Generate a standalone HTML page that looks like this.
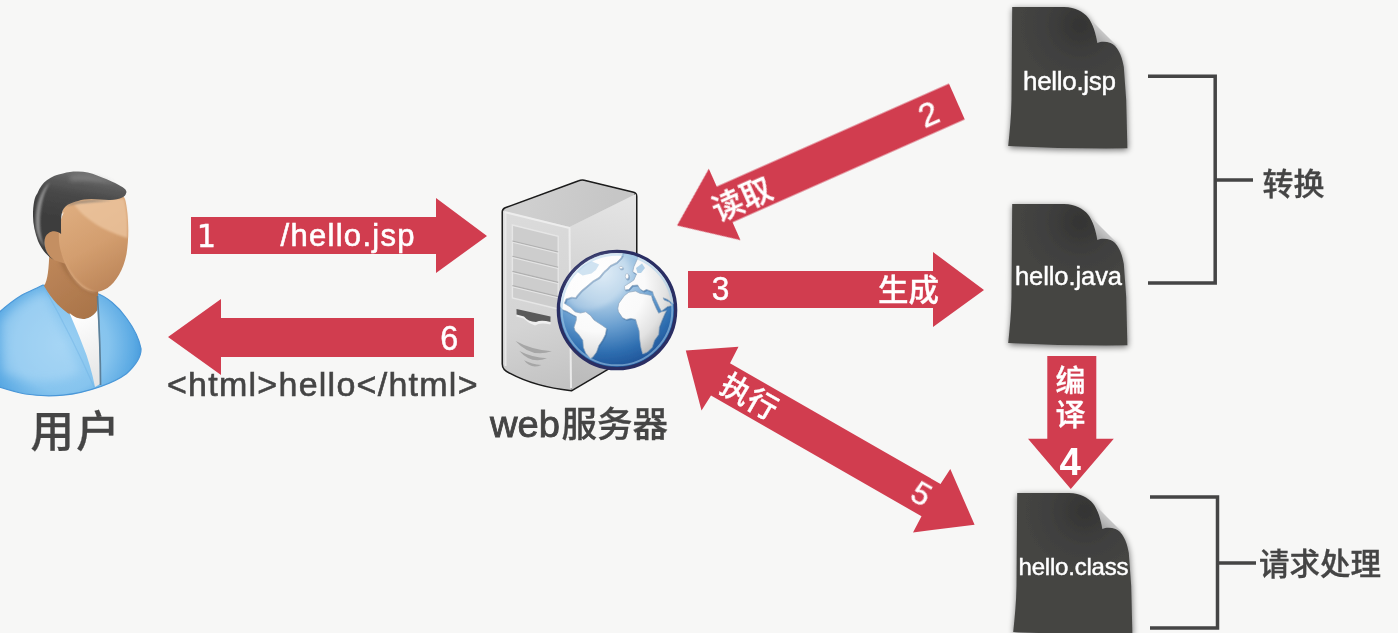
<!DOCTYPE html>
<html lang="zh-CN">
<head>
<meta charset="utf-8">
<title>JSP 执行流程</title>
<style>
  html, body { margin: 0; padding: 0; background: #f7f7f6; overflow: hidden; }
  body { width: 1398px; height: 633px; position: relative; }
  svg { display: block; position: absolute; left: 0; top: 0; }
  text { font-family: "Liberation Sans", "Noto Sans CJK SC", sans-serif; }
  .w { fill: #ffffff; }
  .d { fill: #444444; }
  .cj { font-weight: 500; }
  .w.cj { stroke: #ffffff; stroke-width: 0.35px; }
  .d.cj { stroke: #444444; stroke-width: 0.3px; }
  .lt { stroke: #ffffff; stroke-width: 0.45px; }
  .lt2 { stroke: #ffffff; stroke-width: 0.6px; }
  .ld { stroke: #444444; stroke-width: 0.6px; }
</style>
</head>
<body>
<svg width="1398" height="633" viewBox="0 0 1398 633">
  <defs>
    <filter id="soft" x="-5%" y="-5%" width="110%" height="110%">
      <feGaussianBlur stdDeviation="0.6"/>
    </filter>
    <filter id="fshadow" x="-15%" y="-15%" width="130%" height="130%">
      <feGaussianBlur stdDeviation="3"/>
    </filter>
    <linearGradient id="foldg" x1="0" y1="1" x2="0.6" y2="0.3">
      <stop offset="0" stop-color="#8a8a8a"/>
      <stop offset="0.5" stop-color="#b4b4b4"/>
      <stop offset="1" stop-color="#dadada"/>
    </linearGradient>
    <radialGradient id="fileg" gradientUnits="userSpaceOnUse" cx="70" cy="18" r="60">
      <stop offset="0" stop-color="#343433"/>
      <stop offset="0.6" stop-color="#40403f"/>
      <stop offset="1" stop-color="#444442"/>
    </radialGradient>

    <filter id="b1" x="-10%" y="-10%" width="120%" height="120%"><feGaussianBlur stdDeviation="1"/></filter>
    <filter id="b2" x="-20%" y="-20%" width="140%" height="140%"><feGaussianBlur stdDeviation="2"/></filter>
    <filter id="b4" x="-30%" y="-30%" width="160%" height="160%"><feGaussianBlur stdDeviation="4"/></filter>
    <!-- user gradients -->
    <radialGradient id="bodyg" gradientUnits="userSpaceOnUse" cx="62" cy="345" r="85">
      <stop offset="0" stop-color="#9bd0f3"/>
      <stop offset="0.55" stop-color="#86c4ee"/>
      <stop offset="0.85" stop-color="#5aa9e3"/>
      <stop offset="1" stop-color="#3f93d8"/>
    </radialGradient>
    <linearGradient id="faceg" gradientUnits="userSpaceOnUse" x1="70" y1="200" x2="120" y2="290">
      <stop offset="0" stop-color="#dfae80"/>
      <stop offset="0.5" stop-color="#d39e6f"/>
      <stop offset="1" stop-color="#b98256"/>
    </linearGradient>
    <linearGradient id="neckg" gradientUnits="userSpaceOnUse" x1="50" y1="260" x2="95" y2="320">
      <stop offset="0" stop-color="#bd8659"/>
      <stop offset="1" stop-color="#a87348"/>
    </linearGradient>
    <linearGradient id="hairg" gradientUnits="userSpaceOnUse" x1="85" y1="170" x2="75" y2="225">
      <stop offset="0" stop-color="#777777"/>
      <stop offset="0.2" stop-color="#5e5e5e"/>
      <stop offset="0.5" stop-color="#474747"/>
      <stop offset="1" stop-color="#3c3c3c"/>
    </linearGradient>
    <linearGradient id="shirtg" gradientUnits="userSpaceOnUse" x1="72" y1="315" x2="100" y2="385">
      <stop offset="0" stop-color="#ffffff"/>
      <stop offset="1" stop-color="#e4e4e4"/>
    </linearGradient>
    <!-- server gradients -->
    <linearGradient id="sfront" gradientUnits="userSpaceOnUse" x1="510" y1="215" x2="560" y2="390">
      <stop offset="0" stop-color="#dbdbdb"/>
      <stop offset="0.6" stop-color="#d4d4d4"/>
      <stop offset="1" stop-color="#c2c2c2"/>
    </linearGradient>
    <linearGradient id="sside" gradientUnits="userSpaceOnUse" x1="585" y1="380" x2="625" y2="200">
      <stop offset="0" stop-color="#bcbcbc"/>
      <stop offset="0.5" stop-color="#d2d2d2"/>
      <stop offset="1" stop-color="#e4e4e4"/>
    </linearGradient>
    <linearGradient id="stop" gradientUnits="userSpaceOnUse" x1="530" y1="195" x2="610" y2="215">
      <stop offset="0" stop-color="#cfcfcf"/>
      <stop offset="1" stop-color="#c6c6c6"/>
    </linearGradient>
    <radialGradient id="globeg" gradientUnits="userSpaceOnUse" cx="603" cy="272" r="100">
      <stop offset="0" stop-color="#d6e7f4"/>
      <stop offset="0.3" stop-color="#a9cae5"/>
      <stop offset="0.55" stop-color="#6a9fd0"/>
      <stop offset="0.8" stop-color="#2f6fb1"/>
      <stop offset="1" stop-color="#1c4f94"/>
    </radialGradient>
    <radialGradient id="landg" gradientUnits="userSpaceOnUse" cx="598" cy="285" r="85">
      <stop offset="0" stop-color="#ffffff"/>
      <stop offset="0.55" stop-color="#fafafa"/>
      <stop offset="0.8" stop-color="#e2e2e2"/>
      <stop offset="1" stop-color="#b9b9b9"/>
    </radialGradient>
    <clipPath id="globeclip"><circle cx="617" cy="310" r="56.8"/></clipPath>
    <g id="file">
      <path d="M2.2 0 L54 0 C66 0.5 73 4.5 78 10.5 C83 17 86 27 87.3 36 C91 34.3 96 34.3 100.6 36 C107 38.5 112 48 113.8 60 L116.2 93 L117.4 141.3 Q60 142 -1.8 138.9 C-0.3 125 1.2 110 1.5 93 Z" fill="#000" opacity="0.55" filter="url(#fshadow)" transform="translate(0.5,1.8)"/>
      <path d="M81 13 L107 39 L87 37.5 Z" fill="url(#foldg)" filter="url(#soft)"/>
      <path d="M2.2 0 L54 0 C66 0.5 73 4.5 78 10.5 C83 17 86 27 87.3 36 C91 34.3 96 34.3 100.6 36 C107 38.5 112 48 113.8 60 L116.2 93 L117.4 141.3 Q60 142 -1.8 138.9 C-0.3 125 1.2 110 1.5 93 Z" fill="url(#fileg)" filter="url(#soft)"/>
    </g>
  </defs>

  <rect width="1398" height="633" fill="#f7f7f6"/>


  <!-- user icon -->
  <g id="user" filter="url(#soft)">
    <!-- body -->
    <path d="M-10 321 C2 309 12 301 22 295 C30 291 37 288 43 285 L96 293 C106 296 119 307 126.4 318 C133 327 139 338 141 348.5 C141.5 356 136 365 126.4 373.8 C118 380 108 384 101 386.4 C88 391 76 394 63.2 395.2 C48 396.5 38 396 25.3 394 C15 392 6 389 -10 384 Z" fill="url(#bodyg)" stroke="#4a97d8" stroke-width="1.2"/>
    <path d="M2 322 C14 306 30 297 44 292 C52 312 66 340 80 372 C60 384 30 384 4 372 Z" fill="#b4dcf7" opacity="0.45" filter="url(#b4)"/>
    <!-- neck -->
    <path d="M50 236 C49 262 49 278 44 286 C52 300 62 310 71 315 C78 320.5 90 321.5 97 311 L99 278 L62 236 Z" fill="url(#neckg)"/>
    <path d="M60 262 C68 278 80 290 96 294 L99 283 L64 250 Z" fill="#8e5e3a" opacity="0.55" filter="url(#b2)"/>
    <!-- shirt -->
    <path d="M69.5 313 C78 321 90 322 97.5 310 C99 335 100 360 100 384 L95 387 C92 372 88 358 83 346 C79 335 74 324 69.5 313 Z" fill="url(#shirtg)"/>
    <path d="M97.5 296 C99.5 330 100.5 360 100.5 385" fill="none" stroke="#58788f" stroke-width="1.7" opacity="0.9"/>
    <path d="M44 287 C58 312 78 350 94 387" fill="none" stroke="#6fb3e6" stroke-width="1.2" opacity="0.5"/>
    <!-- ear -->
    <path d="M50 231 C44 232 43 242 45.5 249 C47.5 255 51 259 55 260.5 L66 264 L66 230 Z" fill="#c48f62"/>
    <!-- face -->
    <path d="M62 214 C63 200 84 193 111 192 C118 192 123 194 125 199 C128.5 212 129.5 236 126.5 254 C123.5 270 116 282 107.5 288 C100 293 92 292.5 85 288.5 C74 281.5 65 268 60.5 250 C57.5 238 58.5 222 64 212 Z" fill="url(#faceg)"/>
    <!-- face highlight -->
    <path d="M74 204 C90 199 110 198 124 199 C127 210 128 222 127.5 238 C110 233 86 222 74 204 Z" fill="#efc9a4" opacity="0.7" filter="url(#b1)"/>
    <!-- chin rim light -->
    <path d="M61 252 C68 274 82 289 97 292.5 C86 293 70 282 61 252 Z" fill="#e6b98f" opacity="0.8" filter="url(#b1)"/>
    <!-- hair -->
    <path d="M33 216 C33 204 34.5 197 37.3 193.4 C40 187 43 183 46.8 180.2 C52 176.5 57 174.5 62.9 173.5 C68 172 73 171.5 78.1 171.6 C85 171.7 91 173 97.1 175.4 C104 178 110 180.5 115.1 183 C119 185 122.5 187 124.6 188.7 C126.5 190.5 126.8 192 126 193.4 C125.5 195 124.5 196.3 122.7 197.2 C119 199 115 199.8 110.3 200 C104 200.2 98 199.2 91.4 199.1 C86 199.2 82 199.8 78.1 201 C74 202 70.5 203.2 67.7 204.8 C65 206.5 63 209 62 212.4 C61.2 216 61 219 61 221.9 C61 226 61 230 61.1 234 C57 230.5 52 230.5 48.5 233.2 C44 236 43.5 243 46 250 C48 255 51 258 54 260 C48 257 42 250 38 241 C35 233 33 224 33 216 Z" fill="url(#hairg)"/>
    <path d="M35.5 222 C35.5 204 41 190 50 182 C44 192 40 206 40 222 C40 232 41.5 240 45 248 C39 240 35.5 232 35.5 222 Z" fill="#9a9a9a" opacity="0.85" filter="url(#b1)"/>
    <path d="M70 176 C84 173.5 100 177 114 184 C100 181 84 179.5 70 181 Z" fill="#8e8e8e" opacity="0.6" filter="url(#b2)"/>
    <path d="M66 206 C74 200.5 92 199.5 112 200.6 C96 202 78 202.5 66 206 Z" fill="#6a6a6a" opacity="0.7" filter="url(#b1)"/>
  </g>

  <!-- server icon -->
  <g id="server" filter="url(#soft)">
    <!-- tower -->
    <path d="M503 212 Q503 209.5 505.5 208.5 L579 181.5 Q581.5 180.5 584 181 L633.5 193 Q636 193.8 636 196.5 L636 352 L571.5 390 Q535 386 510 372.5 Q503 369.5 503 364 Z" fill="#d4d4d4" stroke="#1a1a1a" stroke-width="3" stroke-linejoin="round"/>
    <path d="M503 212 Q503 209.5 505.5 208.5 L579 181.5 Q581.5 180.5 584 181 L633.5 193 Q636 193.8 634 195 L569.5 227 Z" fill="url(#stop)"/>
    <path d="M503 211 L569.5 227 L571.5 390 Q535 386 510 372.5 Q503 369.5 503 364 Z" fill="url(#sfront)"/>
    <path d="M569.5 227 L636 194 L636 352 L571.5 390 Z" fill="url(#sside)"/>
    <path d="M504.5 212 L569.5 228 L571 388" stroke="#f0f0f0" stroke-width="2" fill="none" opacity="0.85"/>
    <path d="M505.5 213 L505.5 366" stroke="#ececec" stroke-width="2" fill="none" opacity="0.8"/>
    <!-- drive bays -->
    <path d="M512.4 225 L558.2 236.4 L558.2 309 L512.4 298 Z" fill="#cdcdcd" stroke="#e6e6e6" stroke-width="1.4"/>
    <path d="M512.4 241 L558.2 252 M512.4 256.3 L558.2 267.3 M512.4 271.4 L558.2 282.4 M512.4 285.6 L558.2 296.6" stroke="#b0b0b0" stroke-width="1.1" fill="none"/>
    <path d="M512.4 242.3 L558.2 253.3 M512.4 257.6 L558.2 268.6 M512.4 272.7 L558.2 283.7 M512.4 286.9 L558.2 297.9" stroke="#e6e6e6" stroke-width="1" fill="none"/>
    <!-- floppy -->
    <path d="M516.5 311 L550.5 318.5 L550.5 324.5 Q540 322 535 325.5 Q528 323 523.5 318.5 L516.5 316.5 Z" fill="#f2f2f2" opacity="0.9"/>
    <path d="M516.5 309 L550.5 316.5 L550.5 322 Q541 319.5 536 322 Q528 321.5 524 316.5 L516.5 314.5 Z" fill="#5a5a5a"/>
    <!-- vents -->
    <g fill="#a6a6a6">
      <path d="M515.6 341 Q532 350 551.8 351.2 Q531 358.5 515.6 341 Z"/>
      <path d="M519.4 351 Q532 357.5 547 358.2 Q531 364.5 519.4 351 Z"/>
      <path d="M524 360.3 Q532 364.5 541.4 364.9 Q531 369.5 524 360.3 Z"/>
    </g>
    <!-- globe -->
    <circle cx="617" cy="310" r="58.6" fill="url(#globeg)" stroke="#2b2f63" stroke-width="3.4"/>
    <g clip-path="url(#globeclip)">
      <g fill="#3d6c9f" stroke="#3d6c9f" stroke-width="0.6" opacity="0.55" transform="translate(0.9 1.1)" stroke-linejoin="round">
        <path d="M625 245 L622.2 255.7 L621 258 L616.6 262.4 L610 265.7 L607 269 L604 271.5 L599.2 277.3 L592.6 281.2 L588.2 285 L581.5 290.6 L577.1 295.6 L575.5 297.8 L571.6 297.2 L566.1 298.9 L564.4 303.3 L570.4 307.1 L575.1 311.8 L580.5 313 L585.8 311.8 L590.5 315.4 L594.1 320.1 L602.4 325.5 L606.5 328.4 L605.4 334.4 L602.4 340.3 L598.8 345.6 L596.5 352.1 L592.9 356.9 L590.5 358.6 L585.8 353.3 L583.4 347.4 L582.8 340.3 L578.7 334.4 L575.1 330.8 L574 327.3 L576.3 320.1 L576.3 316.6 L572.8 314.8 L566.8 311.3 L562.1 309.5 L559.7 305.9 L555 303 L550 300 L550 245 Z"/>
        <path d="M637.6 245 L637.6 258.5 L633.8 266.8 L632.7 271.8 L636.5 274 L633.8 280.1 L628.8 283.4 L624.4 286.2 L624.9 290 L628.8 289.5 L632.1 285.6 L637.6 285 L639.9 288.9 L643.2 291.1 L646.5 289.5 L652.6 291.7 L653.5 295 L655.7 299.4 L659.6 307.7 L661.3 311 L663.1 309.9 L667.5 306.6 L671.9 305.5 L669.7 302.2 L664.2 300 L663.1 297.8 L667.5 299.4 L671.9 302.7 L676.3 305.5 L685 305 L685 245 Z"/>
        <path d="M618.8 303.3 L624.4 295.6 L628.8 292.2 L635.4 291.1 L639.9 293.3 L646.5 294.4 L651.5 295.6 L652.6 300 L656.4 308.8 L658.7 313.2 L661.6 311.8 L666.4 310.7 L664.6 314.2 L661.6 321.3 L659.3 327.3 L658.7 334.4 L654.5 340.3 L652.1 347.4 L647.4 352.1 L642.7 353.9 L640.9 347.4 L639.7 339.1 L639.1 330.8 L636.8 323.7 L635.6 319.5 L630.8 318.4 L626.1 319.5 L622.5 317.8 L618.4 311.8 L617.8 308.3 Z"/>
        <ellipse cx="627" cy="276.3" rx="1.7" ry="2.8"/>
        <ellipse cx="621" cy="267.6" rx="1.7" ry="1.3"/>
      </g>
      <g fill="url(#landg)" stroke="#8fa6bd" stroke-width="0.7" stroke-linejoin="round">
        <path d="M625 245 L622.2 255.7 L621 258 L616.6 262.4 L610 265.7 L607 269 L604 271.5 L599.2 277.3 L592.6 281.2 L588.2 285 L581.5 290.6 L577.1 295.6 L575.5 297.8 L571.6 297.2 L566.1 298.9 L564.4 303.3 L570.4 307.1 L575.1 311.8 L580.5 313 L585.8 311.8 L590.5 315.4 L594.1 320.1 L602.4 325.5 L606.5 328.4 L605.4 334.4 L602.4 340.3 L598.8 345.6 L596.5 352.1 L592.9 356.9 L590.5 358.6 L585.8 353.3 L583.4 347.4 L582.8 340.3 L578.7 334.4 L575.1 330.8 L574 327.3 L576.3 320.1 L576.3 316.6 L572.8 314.8 L566.8 311.3 L562.1 309.5 L559.7 305.9 L555 303 L550 300 L550 245 Z"/>
        <path d="M637.6 245 L637.6 258.5 L633.8 266.8 L632.7 271.8 L636.5 274 L633.8 280.1 L628.8 283.4 L624.4 286.2 L624.9 290 L628.8 289.5 L632.1 285.6 L637.6 285 L639.9 288.9 L643.2 291.1 L646.5 289.5 L652.6 291.7 L653.5 295 L655.7 299.4 L659.6 307.7 L661.3 311 L663.1 309.9 L667.5 306.6 L671.9 305.5 L669.7 302.2 L664.2 300 L663.1 297.8 L667.5 299.4 L671.9 302.7 L676.3 305.5 L685 305 L685 245 Z"/>
        <path d="M618.8 303.3 L624.4 295.6 L628.8 292.2 L635.4 291.1 L639.9 293.3 L646.5 294.4 L651.5 295.6 L652.6 300 L656.4 308.8 L658.7 313.2 L661.6 311.8 L666.4 310.7 L664.6 314.2 L661.6 321.3 L659.3 327.3 L658.7 334.4 L654.5 340.3 L652.1 347.4 L647.4 352.1 L642.7 353.9 L640.9 347.4 L639.7 339.1 L639.1 330.8 L636.8 323.7 L635.6 319.5 L630.8 318.4 L626.1 319.5 L622.5 317.8 L618.4 311.8 L617.8 308.3 Z"/>
        <ellipse cx="627" cy="276.3" rx="1.7" ry="2.8"/>
        <ellipse cx="621" cy="267.6" rx="1.7" ry="1.3"/>
      </g>
      <path d="M577.1 271.8 L582.6 265.7 L591.5 261.3 L599.2 264.6 L595.9 270.1 L591.5 273.4 L582.6 275.6 Z" fill="#bcd7ec" opacity="0.9"/>
      <path d="M636 268 L642 263.5 L645 268 L641 273 L637.5 273 Z" fill="#a9cbe6" opacity="0.9"/>
      <circle cx="617" cy="310" r="55.3" fill="none" stroke="#a8cdea" stroke-width="2" opacity="0.55"/>
    </g>
    <ellipse cx="598" cy="282" rx="36" ry="24" fill="#ffffff" opacity="0.22" transform="rotate(-35 598 282)" filter="url(#b2)"/>
  </g>

  <!-- arrows -->
  <g fill="#d13d50" filter="url(#soft)">
    <!-- 1 -->
    <path d="M191 217 H436 V198 L487 236 L436 273 V254 H191 Z"/>
    <!-- 6 -->
    <path d="M474 318 H221 V299 L168 337 L221 375 V357 H474 Z"/>
    <!-- 3 -->
    <path d="M688 271 H933 V252 L984 290 L933 327 V308 H688 Z"/>
    <!-- 4 -->
    <path d="M1047.3 356 H1096.3 V438.8 H1113.8 L1070.8 489 L1028 438.8 H1047.3 Z"/>
    <!-- 2 -->
    <g transform="translate(677.1 225.5) rotate(-23.9)">
      <path d="M0 0 L52 -39 V-19.4 H306 V19.4 H52 V39 Z"/>
    </g>
    <!-- 5 -->
    <path d="M685.8 350.5 L738.5 346.7 L730 363.2 L940.5 484 L950.3 468.9 L974.6 524.8 L913 532.4 L921.5 516.3 L711 395.4 L701.5 410.6 Z"/>
  </g>

  <!-- arrow labels -->
  <g class="w" filter="url(#soft)">
    <text x="196.8" y="246.6" font-size="32.5" textLength="19.3" lengthAdjust="spacingAndGlyphs" class="w lt" style="font-family:'DejaVu Sans','Liberation Sans',sans-serif">1</text>
    <text x="280.5" y="245.5" font-size="31" textLength="134" lengthAdjust="spacing" class="w lt2">/hello.jsp</text>
    <text x="449.2" y="350" font-size="34.5" text-anchor="middle" textLength="18" lengthAdjust="spacingAndGlyphs" class="w lt">6</text>
    <text x="720.6" y="300.3" font-size="34" text-anchor="middle" textLength="17.6" lengthAdjust="spacingAndGlyphs" class="w lt">3</text>
    <text x="878" y="301" font-size="30.5" class="w cj">生成</text>
    <text x="1070.5" y="390.5" font-size="30" text-anchor="middle" class="w cj">编</text>
    <text x="1070.5" y="424.5" font-size="30" text-anchor="middle" class="w cj">译</text>
    <text x="1070.3" y="475.2" font-size="38.5" font-weight="bold" text-anchor="middle" class="w">4</text>
    <g transform="translate(677.1 225.5) rotate(-23.9)">
      <text x="70" y="13" font-size="31" text-anchor="middle" class="w cj">读取</text>
    </g>
    <g transform="translate(928.7 114.5) rotate(-23.9)">
      <text x="0" y="10.6" font-size="33.5" text-anchor="middle" class="w lt">2</text>
    </g>
    <g transform="translate(749.6 396) rotate(29.9)">
      <text x="0" y="11.4" font-size="30" text-anchor="middle" class="w cj">执行</text>
    </g>
    <g transform="translate(921.9 494) rotate(29.9)">
      <text x="-0.5" y="11.4" font-size="31.5" text-anchor="middle" class="w lt">5</text>
    </g>
  </g>

  <!-- files -->
  <use href="#file" x="1010" y="7"/>
  <use href="#file" x="1010" y="204"/>
  <use href="#file" x="1015" y="493"/>
  <g class="w" filter="url(#soft)">
    <text x="1023" y="89.7" font-size="26" textLength="93" lengthAdjust="spacing" class="w lt">hello.jsp</text>
    <text x="1015" y="285" font-size="25.5" textLength="107" lengthAdjust="spacing" class="w lt">hello.java</text>
    <text x="1018.5" y="575" font-size="24" textLength="110" lengthAdjust="spacing" class="w lt">hello.class</text>
  </g>

  <!-- brackets -->
  <g fill="none" stroke="#444444" stroke-width="3.5" filter="url(#soft)">
    <path d="M1148 76.2 H1215.2 V283 H1148"/>
    <path d="M1215.2 180 H1253"/>
    <path d="M1150 497 H1217.5 V628 H1150"/>
    <path d="M1217.5 563 H1256"/>
  </g>
  <g class="d" filter="url(#soft)">
    <text x="1262.5" y="194.8" font-size="31" class="d cj">转换</text>
    <text x="1259" y="575" font-size="30.5" class="d cj">请求处理</text>
    <text x="30.5" y="446.7" font-size="43.5" class="d cj" textLength="89" lengthAdjust="spacing">用户</text>
    <text x="490" y="436.5" font-size="36" class="d cj"><tspan textLength="70" lengthAdjust="spacingAndGlyphs" stroke-width="0.8">web</tspan><tspan x="561.5" font-size="35.5">服务器</tspan></text>
    <text x="167" y="396" font-size="34" class="d ld" textLength="310.5" lengthAdjust="spacing">&lt;html&gt;hello&lt;/html&gt;</text>
  </g>
</svg>
</body>
</html>
